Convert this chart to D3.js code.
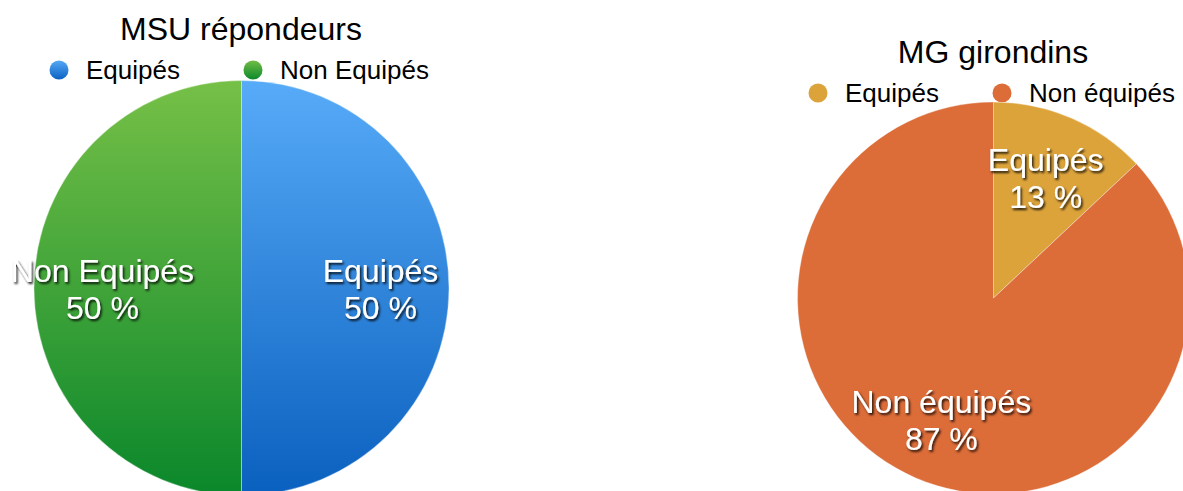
<!DOCTYPE html>
<html>
<head>
<meta charset="utf-8">
<script src="https://cdn.jsdelivr.net/npm/d3@7"></script>
<style>
  html, body { margin: 0; padding: 0; background: #fff; }
  svg { display: block; font-family: "Liberation Sans", Arial, Helvetica, sans-serif; }
</style>
</head>
<body>
<div id="chart"></div>
<script>
// data
var msuTitle = "MSU répondeurs";
var msuCategories = ["Equipés", "Non Equipés"];
var msuValues = [50, 50];

var mgTitle = "MG girondins";
var mgCategories = ["Equipés", "Non équipés"];
var mgValues = [13, 87];

var width = 1183, height = 491;

var svg = d3.select("#chart").append("svg")
    .attr("width", width)
    .attr("height", height);

var defs = svg.append("defs");

// text shadow for the slice labels
var shadow = defs.append("filter")
    .attr("id", "txtShadow")
    .attr("x", "-10%").attr("y", "-20%")
    .attr("width", "130%").attr("height", "150%");
shadow.append("feDropShadow")
    .attr("dx", 1.5).attr("dy", 2)
    .attr("stdDeviation", 1.3)
    .attr("flood-color", "#000")
    .attr("flood-opacity", 0.85);

// vertical gradient, y1/y2 in the local coords of the element using it
function addGradient(id, top, bottom, y1, y2){
    var g = defs.append("linearGradient")
        .attr("id", id)
        .attr("gradientUnits", "userSpaceOnUse")
        .attr("x1", 0).attr("y1", y1)
        .attr("x2", 0).attr("y2", y2);
    g.append("stop").attr("offset", 0).attr("stop-color", top);
    g.append("stop").attr("offset", 1).attr("stop-color", bottom);
    return "url(#" + id + ")";
}

function pieChart(opt){
    var cx = opt.cx, cy = opt.cy, r = opt.r;
    var g = svg.append("g");

    var pie = d3.pie().sort(null).value(function(d){ return d.value; });
    var arc = d3.arc().innerRadius(0).outerRadius(r);
    var labelArc = d3.arc().innerRadius(r * 0.67).outerRadius(r * 0.67);

    var data = opt.categories.map(function(c, i){
        return { name: c, value: opt.values[i], fill: opt.fills[i] };
    });

    // title
    g.append("text")
        .attr("x", opt.titleX)
        .attr("y", opt.titleY)
        .attr("text-anchor", "middle")
        .style("font-size", "32px")
        .style("fill", "#000")
        .text(opt.title);

    // legend
    var leg = g.selectAll(".leg").data(data).enter().append("g")
        .attr("class", "leg")
        .attr("transform", function(d, i){ return "translate(" + opt.legendX[i] + "," + opt.legendY + ")"; });
    leg.append("circle")
        .attr("cx", 0).attr("cy", -9)
        .attr("r", 9.5)
        .style("fill", function(d, i){ return opt.legendFills[i]; });
    leg.append("text")
        .attr("x", 27).attr("y", 0)
        .style("font-size", "26px")
        .style("fill", "#000")
        .text(function(d){ return d.name; });

    // slices
    var pg = g.append("g").attr("transform", "translate(" + cx + "," + cy + ")");
    pg.selectAll("path").data(pie(data)).enter().append("path")
        .attr("d", arc)
        .style("fill", function(d){ return d.data.fill; })
        .style("stroke", "rgba(255,255,255,0.45)")
        .style("stroke-width", 0.8);

    // slice labels
    var lbl = pg.selectAll(".lbl").data(pie(data)).enter().append("text")
        .attr("class", "lbl")
        .attr("transform", function(d){ return "translate(" + labelArc.centroid(d) + ")"; })
        .attr("text-anchor", "middle")
        .attr("filter", "url(#txtShadow)")
        .style("font-size", "32px")
        .style("fill", "#fff");
    lbl.append("tspan").attr("x", 0).attr("y", -6)
        .text(function(d){ return d.data.name; });
    lbl.append("tspan").attr("x", 0).attr("y", 31)
        .text(function(d){ return d.data.value + " %"; });
}

// left pie: gradients run over the whole disc (local coords, centre at 0)
var blueFill = addGradient("blueGrad", "#57abf8", "#0a60be", -208, 208);
var greenFill = addGradient("greenGrad", "#76c047", "#0a872b", -208, 208);
var blueDot = addGradient("blueDot", "#55a8f6", "#0c62c2", -18.5, 0.5);
var greenDot = addGradient("greenDot", "#70bd45", "#0c882b", -18.5, 0.5);

pieChart({
    title: msuTitle, categories: msuCategories, values: msuValues,
    fills: [blueFill, greenFill], legendFills: [blueDot, greenDot],
    cx: 241.5, cy: 288, r: 207.5,
    titleX: 241, titleY: 40,
    legendX: [59, 253], legendY: 79
});

pieChart({
    title: mgTitle, categories: mgCategories, values: mgValues,
    fills: ["#dca33b", "#dc6c38"], legendFills: ["#dca33b", "#dc6c38"],
    cx: 993.5, cy: 298, r: 196,
    titleX: 993, titleY: 63,
    legendX: [818, 1002], legendY: 102
});
</script>
</body>
</html>
